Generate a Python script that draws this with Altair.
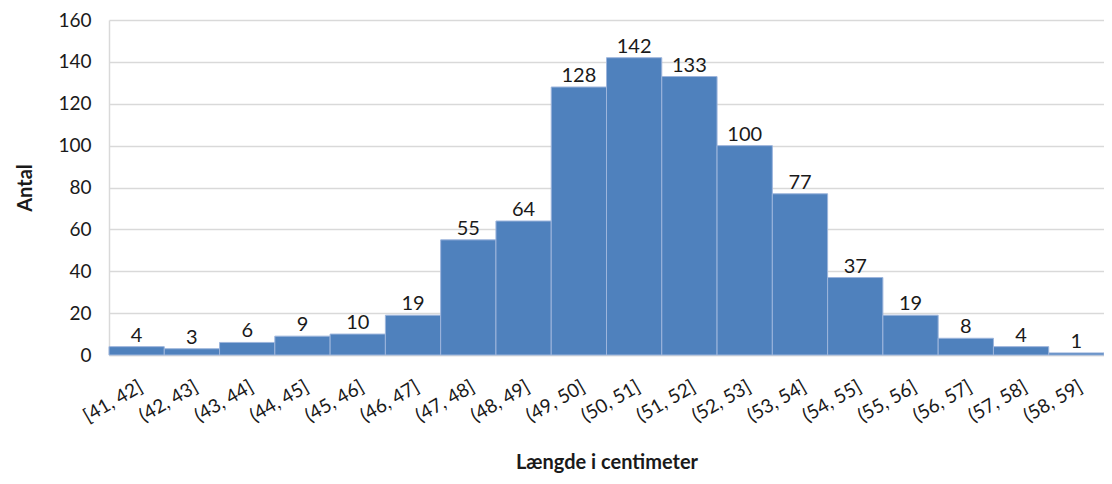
import altair as alt
import pandas as pd

categories = ["[41, 42]", "(42, 43]", "(43, 44]", "(44, 45]", "(45, 46]", "(46, 47]",
              "(47, 48]", "(48, 49]", "(49, 50]", "(50, 51]", "(51, 52]", "(52, 53]",
              "(53, 54]", "(54, 55]", "(55, 56]", "(56, 57]", "(57, 58]", "(58, 59]"]
counts = [4, 3, 6, 9, 10, 19, 55, 64, 128, 142, 133, 100, 77, 37, 19, 8, 4, 1]
y_ticks = [0, 20, 40, 60, 80, 100, 120, 140, 160]

df = pd.DataFrame({"interval": categories, "antal": counts})

FONT = "Lato"

x = alt.X("interval:N", sort=categories,
          scale=alt.Scale(paddingInner=0, paddingOuter=0),
          axis=alt.Axis(title="Længde i centimeter", labelAngle=-30, labelAlign="right",
                        labelBaseline="top", labelPadding=22, labelFontSize=19,
                        labelFont=FONT, labelColor="#1a1a1a", ticks=False,
                        domainColor="#D9D9D9", domainWidth=1.5,
                        titleFont=FONT, titleFontSize=20, titleFontWeight="bold",
                        titleColor="#1a1a1a", titleY=107, titleBaseline="middle"))
y = alt.Y("antal:Q", scale=alt.Scale(domain=[0, 160], nice=False),
          axis=alt.Axis(title="Antal", values=y_ticks, ticks=False, labelFontSize=19,
                        labelFont=FONT, labelColor="#1a1a1a", labelPadding=18,
                        domainColor="#D9D9D9", domainWidth=1.5,
                        gridColor="#D9D9D9", gridWidth=1.5,
                        titleFont=FONT, titleFontSize=20, titleFontWeight="bold",
                        titleColor="#1a1a1a", titlePadding=22))

bars = alt.Chart(df).mark_bar(color="#4F81BD", stroke="#9DB5DC", strokeWidth=1).encode(x=x, y=y)
labels = alt.Chart(df).mark_text(baseline="alphabetic", dy=-5, fontSize=20, font=FONT,
                                 color="#1a1a1a").encode(x=x, y=y, text="antal:Q")

chart = (bars + labels).properties(
    width=995, height=335,
    autosize=alt.AutoSizeParams(type="none"),
    padding={"left": 101, "top": 12, "right": 0, "bottom": 120},
).configure_view(stroke=None)

chart.save("out.html", embed_options={"renderer": "svg", "actions": False})
